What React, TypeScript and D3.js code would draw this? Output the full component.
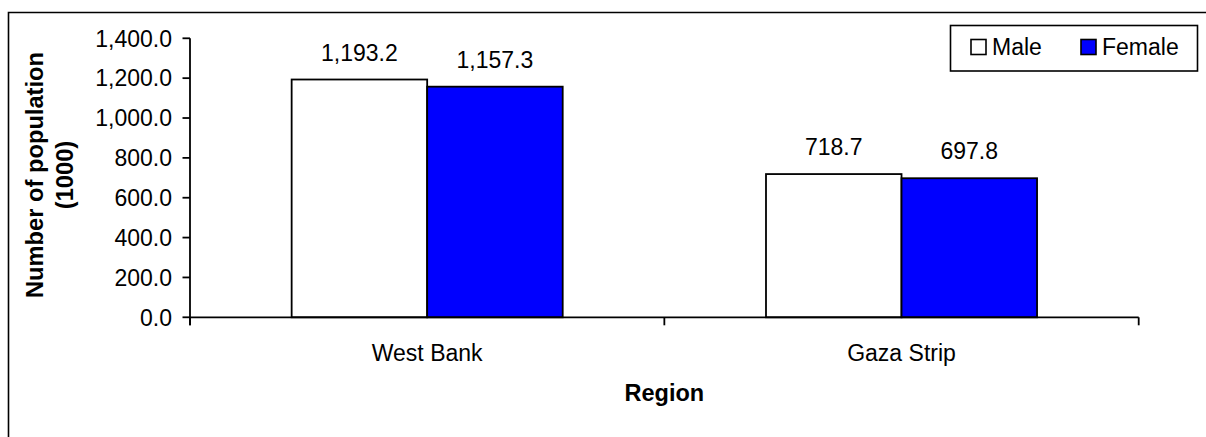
import * as d3 from 'd3';

const regions = ['West Bank', 'Gaza Strip'];
const seriesNames = ['Male', 'Female'];
const maleValues = [1193.2, 718.7];
const femaleValues = [1157.3, 697.8];
const yTicks = [0, 200, 400, 600, 800, 1000, 1200, 1400];

const seriesColors = ['#ffffff', '#0000ff'];
const FONT = '"Liberation Sans", Arial, sans-serif';

export default function App() {
  const width = 1206;
  const height = 437;

  const plot = { left: 190, right: 1138.7, top: 38.3, bottom: 317.3 };

  const x0 = d3.scaleBand<string>().domain(regions).range([plot.left, plot.right]).padding(0);
  const x1 = d3.scaleBand<string>()
    .domain(seriesNames)
    .range([0, x0.bandwidth()])
    .paddingInner(0)
    .paddingOuter(0.75);
  const y = d3.scaleLinear().domain([0, 1400]).range([plot.bottom, plot.top]);

  const fmt = d3.format(',.1f');
  const values = [maleValues, femaleValues];

  const bars = regions.flatMap((r, i) =>
    seriesNames.map((s, j) => ({ region: r, series: s, value: values[j][i], color: seriesColors[j] })),
  );

  const xTicks = [plot.left, ...regions.map(r => (x0(r) as number) + x0.bandwidth())];

  return (
    <svg
      width={width}
      height={height}
      style={{ position: 'absolute', left: 0, top: 0, background: '#fff' }}
      fontFamily={FONT}
    >
      {/* outer chart-area border (right and bottom edges fall outside the picture) */}
      <path d="M8.5,450 V12.5 H1220" fill="none" stroke="#000" strokeWidth={1.6} />

      {/* bars */}
      {bars.map(b => {
        const bx = (x0(b.region) as number) + (x1(b.series) as number);
        const by = y(b.value);
        return (
          <g key={b.region + b.series}>
            <rect
              x={bx}
              y={by}
              width={x1.bandwidth()}
              height={y(0) - by}
              fill={b.color}
              stroke="#000"
              strokeWidth={1.8}
            />
            <text x={bx + x1.bandwidth() / 2} y={by - 19} textAnchor="middle" fontSize={23} fill="#000">
              {fmt(b.value)}
            </text>
          </g>
        );
      })}

      {/* y axis */}
      <line x1={plot.left} x2={plot.left} y1={plot.top} y2={plot.bottom + 8} stroke="#000" strokeWidth={1.8} />
      {yTicks.map(t => (
        <g key={t}>
          <line x1={plot.left - 7.5} x2={plot.left} y1={y(t)} y2={y(t)} stroke="#000" strokeWidth={1.8} />
          <text x={172} y={y(t)} dy="0.36em" textAnchor="end" fontSize={23} fill="#000">
            {fmt(t)}
          </text>
        </g>
      ))}

      {/* x axis */}
      <line x1={plot.left} x2={plot.right} y1={plot.bottom} y2={plot.bottom} stroke="#000" strokeWidth={1.8} />
      {xTicks.map((t, i) => (
        <line key={i} x1={t} x2={t} y1={plot.bottom} y2={plot.bottom + 8} stroke="#000" strokeWidth={1.8} />
      ))}
      {regions.map(r => (
        <text
          key={r}
          x={(x0(r) as number) + x0.bandwidth() / 2}
          y={361}
          textAnchor="middle"
          fontSize={23}
          fill="#000"
        >
          {r}
        </text>
      ))}

      {/* axis titles */}
      <text x={(plot.left + plot.right) / 2} y={401} textAnchor="middle" fontSize={23.5} fontWeight="bold" fill="#000">
        Region
      </text>
      <text transform="translate(43,175) rotate(-90)" textAnchor="middle" fontSize={23.7} fontWeight="bold" fill="#000">
        Number of population
      </text>
      <text transform="translate(73,175) rotate(-90)" textAnchor="middle" fontSize={23.7} fontWeight="bold" fill="#000">
        (1000)
      </text>

      {/* legend */}
      <rect x={950.5} y={25.5} width={247} height={45.5} fill="#fff" stroke="#000" strokeWidth={1.6} />
      {seriesNames.map((s, i) => {
        const lx = i === 0 ? 971 : 1081;
        return (
          <g key={s}>
            <rect x={lx} y={39.5} width={15} height={15} fill={seriesColors[i]} stroke="#000" strokeWidth={1.6} />
            <text x={lx + 21} y={55} fontSize={23} fill="#000">
              {s}
            </text>
          </g>
        );
      })}
    </svg>
  );
}
